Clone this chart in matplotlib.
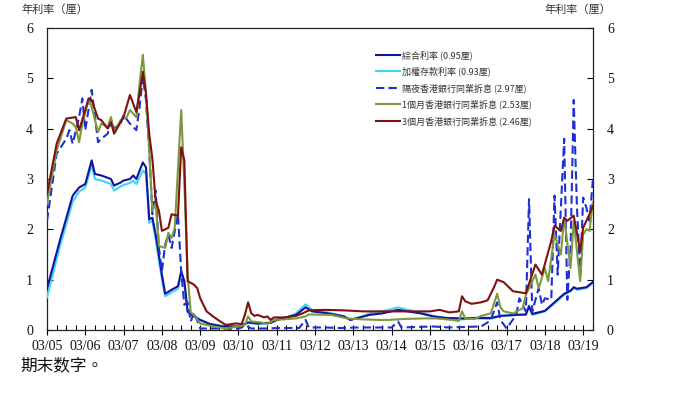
import matplotlib
matplotlib.use("Agg")
import matplotlib.pyplot as plt
import matplotlib.dates as mdates
import pandas as pd

plt.rcParams['font.family'] = ['Noto Sans CJK TC', 'DejaVu Sans']

# ---------------- data ----------------
composite_dates = ["2005-03", "2005-07", "2005-11", "2006-01", "2006-03", "2006-05", "2006-06", "2006-08",
                   "2006-11", "2006-12", "2007-02", "2007-03", "2007-05", "2007-06", "2007-07", "2007-09",
                   "2007-10", "2007-11", "2007-12", "2008-01", "2008-03", "2008-04", "2008-06", "2008-08",
                   "2008-09", "2008-10", "2008-11", "2009-01", "2009-03", "2009-06", "2009-10", "2010-03",
                   "2010-06", "2010-09", "2011-01", "2011-03", "2011-06", "2011-09", "2011-12", "2012-02",
                   "2012-07", "2012-12", "2013-02", "2013-05", "2013-08", "2013-12", "2014-05", "2014-08",
                   "2014-12", "2015-04", "2015-08", "2016-01", "2016-05", "2016-10", "2017-01", "2017-06",
                   "2017-09", "2017-10", "2017-11", "2018-03", "2018-06", "2018-09", "2018-11", "2018-12",
                   "2019-01", "2019-04", "2019-06"]
composite = [0.82, 1.77, 2.67, 2.83, 2.90, 3.37, 3.10, 3.07,
             3.00, 2.87, 2.93, 2.97, 3.00, 3.07, 3.00, 3.33,
             3.23, 2.20, 2.23, 1.90, 1.10, 0.72, 0.80, 0.87,
             1.17, 0.97, 0.37, 0.27, 0.20, 0.12, 0.07, 0.07,
             0.15, 0.13, 0.14, 0.20, 0.25, 0.30, 0.45, 0.37,
             0.33, 0.27, 0.20, 0.25, 0.30, 0.33, 0.40, 0.37,
             0.33, 0.27, 0.24, 0.23, 0.24, 0.24, 0.28, 0.30,
             0.31, 0.47, 0.32, 0.38, 0.55, 0.72, 0.78, 0.85,
             0.82, 0.85, 0.95]

deposit_dates = ["2005-03", "2005-07", "2005-11", "2006-01", "2006-03", "2006-05", "2006-06", "2006-08",
                 "2006-11", "2006-12", "2007-02", "2007-03", "2007-05", "2007-06", "2007-07", "2007-09",
                 "2007-10", "2007-11", "2007-12", "2008-01", "2008-03", "2008-04", "2008-06", "2008-08",
                 "2008-09", "2008-10", "2008-11", "2009-01", "2009-03", "2009-06", "2009-10", "2010-03",
                 "2010-06", "2010-09", "2011-01", "2011-03", "2011-06", "2011-09", "2011-12", "2012-02",
                 "2012-07", "2012-12", "2013-02", "2013-05", "2013-08", "2013-12", "2014-05", "2014-08",
                 "2014-12", "2015-04", "2015-08", "2016-01", "2016-05", "2016-10", "2017-01", "2017-06",
                 "2017-09", "2017-10", "2017-11", "2018-03", "2018-06", "2018-09", "2018-11", "2018-12",
                 "2019-01", "2019-04", "2019-06"]
deposit = [0.65, 1.65, 2.55, 2.75, 2.83, 3.27, 3.00, 2.97,
           2.90, 2.77, 2.85, 2.88, 2.92, 2.97, 2.90, 3.17,
           3.10, 2.13, 2.17, 1.80, 1.00, 0.67, 0.75, 0.82,
           1.10, 0.90, 0.35, 0.27, 0.20, 0.12, 0.08, 0.07,
           0.14, 0.12, 0.15, 0.20, 0.25, 0.33, 0.51, 0.40,
           0.35, 0.27, 0.20, 0.25, 0.33, 0.37, 0.45, 0.40,
           0.35, 0.28, 0.23, 0.21, 0.23, 0.22, 0.28, 0.30,
           0.30, 0.49, 0.30, 0.37, 0.53, 0.70, 0.77, 0.83,
           0.80, 0.83, 0.93]

overnight_dates = ["2005-03", "2005-06", "2005-09", "2005-10", "2005-11", "2006-01", "2006-02", "2006-03",
                   "2006-05", "2006-07", "2006-08", "2006-10", "2006-11", "2006-12", "2007-02", "2007-03",
                   "2007-05", "2007-07", "2007-08", "2007-09", "2007-10", "2007-11", "2007-12", "2008-01",
                   "2008-02", "2008-03", "2008-04", "2008-05", "2008-06", "2008-08", "2008-09", "2008-10",
                   "2008-11", "2008-12", "2009-01", "2009-03", "2009-06", "2009-10", "2010-02", "2010-04",
                   "2010-05", "2010-07", "2010-11", "2011-04", "2011-10", "2011-12", "2012-01", "2012-06",
                   "2012-11", "2013-04", "2013-10", "2014-03", "2014-05", "2014-06", "2014-11", "2015-04",
                   "2015-09", "2016-02", "2016-07", "2016-09", "2016-10", "2016-12", "2017-01", "2017-03",
                   "2017-06", "2017-07", "2017-09", "2017-10", "2017-11", "2018-01", "2018-02", "2018-03",
                   "2018-05", "2018-06", "2018-07", "2018-09", "2018-10", "2018-11", "2018-12", "2019-01",
                   "2019-02", "2019-03", "2019-04", "2019-05", "2019-06"]
overnight = [2.17, 3.50, 3.80, 3.97, 3.70, 4.23, 4.60, 3.97,
             4.77, 3.73, 3.80, 3.90, 4.17, 4.00, 4.10, 4.27,
             4.10, 3.97, 4.43, 5.03, 4.57, 3.57, 2.30, 2.77,
             1.63, 1.17, 1.70, 1.90, 1.63, 2.30, 1.15, 0.50,
             0.55, 0.17, 0.35, 0.03, 0.03, 0.03, 0.02, 0.05,
             0.10, 0.03, 0.03, 0.04, 0.04, 0.20, 0.05, 0.05,
             0.04, 0.05, 0.05, 0.05, 0.17, 0.05, 0.06, 0.07,
             0.05, 0.06, 0.07, 0.15, 0.20, 0.55, 0.20, 0.03,
             0.30, 0.63, 0.37, 2.60, 0.37, 0.83, 0.50, 0.63,
             0.60, 2.67, 1.10, 3.80, 0.60, 1.63, 4.57, 2.43,
             1.10, 2.63, 2.43, 2.17, 2.97]

m1_dates = ["2005-03", "2005-06", "2005-09", "2005-11", "2005-12", "2006-01", "2006-02", "2006-04",
            "2006-05", "2006-07", "2006-08", "2006-10", "2006-11", "2006-12", "2007-02", "2007-04",
            "2007-05", "2007-07", "2007-08", "2007-09", "2007-10", "2007-11", "2007-12", "2008-01",
            "2008-02", "2008-04", "2008-05", "2008-06", "2008-07", "2008-09", "2008-10", "2008-11",
            "2008-12", "2009-01", "2009-03", "2009-07", "2009-11", "2010-03", "2010-05", "2010-06",
            "2010-07", "2010-10", "2010-12", "2011-02", "2011-05", "2011-09", "2011-12", "2012-01",
            "2012-08", "2013-01", "2013-06", "2013-11", "2014-02", "2014-07", "2015-01", "2015-05",
            "2015-10", "2015-12", "2016-01", "2016-02", "2016-05", "2016-07", "2016-10", "2016-12",
            "2017-01", "2017-02", "2017-05", "2017-08", "2017-09", "2017-10", "2017-12", "2018-01",
            "2018-03", "2018-04", "2018-06", "2018-08", "2018-09", "2018-11", "2018-12", "2019-02",
            "2019-03", "2019-04", "2019-05", "2019-06"]
m1 = [2.50, 3.57, 4.17, 4.10, 4.03, 3.73, 4.10, 4.57,
      4.43, 3.93, 4.10, 4.03, 4.23, 3.93, 4.17, 4.23,
      4.37, 4.23, 4.90, 5.47, 4.70, 3.57, 2.37, 2.53,
      1.67, 1.63, 1.93, 1.83, 2.03, 4.37, 2.90, 1.10,
      0.35, 0.30, 0.13, 0.07, 0.03, 0.07, 0.10, 0.27,
      0.17, 0.15, 0.12, 0.20, 0.21, 0.23, 0.27, 0.31,
      0.30, 0.23, 0.21, 0.20, 0.20, 0.22, 0.23, 0.23,
      0.20, 0.18, 0.37, 0.23, 0.22, 0.28, 0.33, 0.72,
      0.45, 0.37, 0.33, 0.43, 0.70, 0.83, 1.10, 0.83,
      1.23, 0.97, 1.90, 1.50, 2.23, 1.23, 2.17, 0.97,
      1.90, 2.00, 1.97, 2.53]

m3_dates = ["2005-03", "2005-06", "2005-09", "2005-12", "2006-01", "2006-03", "2006-04", "2006-05",
            "2006-07", "2006-08", "2006-10", "2006-11", "2006-12", "2007-02", "2007-03", "2007-05",
            "2007-07", "2007-08", "2007-09", "2007-10", "2007-11", "2007-12", "2008-01", "2008-02",
            "2008-03", "2008-05", "2008-06", "2008-08", "2008-09", "2008-10", "2008-11", "2009-01",
            "2009-02", "2009-03", "2009-05", "2009-07", "2009-09", "2009-11", "2010-02", "2010-04",
            "2010-05", "2010-06", "2010-07", "2010-08", "2010-09", "2010-11", "2010-12", "2011-01",
            "2011-02", "2011-05", "2011-09", "2011-11", "2012-01", "2012-06", "2012-12", "2013-06",
            "2013-11", "2014-06", "2015-03", "2015-06", "2015-09", "2015-12", "2016-01", "2016-02",
            "2016-04", "2016-07", "2016-09", "2016-11", "2016-12", "2017-02", "2017-05", "2017-09",
            "2017-12", "2018-02", "2018-05", "2018-06", "2018-08", "2018-09", "2018-10", "2018-12",
            "2019-02", "2019-03", "2019-04", "2019-05", "2019-06"]
m3 = [2.70, 3.70, 4.20, 4.23, 3.97, 4.37, 4.60, 4.57,
      4.20, 4.17, 4.00, 4.13, 3.90, 4.13, 4.23, 4.67,
      4.33, 4.70, 5.13, 4.70, 3.90, 3.40, 2.57, 2.37,
      1.97, 2.03, 2.30, 2.27, 3.63, 3.37, 0.97, 0.90,
      0.83, 0.63, 0.37, 0.27, 0.18, 0.10, 0.13, 0.12,
      0.30, 0.55, 0.33, 0.28, 0.30, 0.25, 0.27, 0.20,
      0.25, 0.25, 0.28, 0.33, 0.39, 0.40, 0.39, 0.37,
      0.37, 0.37, 0.37, 0.40, 0.35, 0.37, 0.67, 0.57,
      0.52, 0.55, 0.59, 0.85, 1.00, 0.95, 0.77, 0.73,
      1.30, 1.10, 1.77, 2.07, 1.97, 2.23, 2.17, 2.27,
      1.57, 2.03, 2.17, 2.30, 2.46]

labels = ["綜合利率 (0.95厘)", "加權存款利率 (0.93厘)", "隔夜香港銀行同業拆息 (2.97厘)",
          "1個月香港銀行同業拆息 (2.53厘)", "3個月香港銀行同業拆息 (2.46厘)"]
y_ticks = [0, 1, 2, 3, 4, 5, 6]
y_title = "年利率（厘）"
footnote = "期末数字。"

# ---------------- figure ----------------
fig = plt.figure(figsize=(6.77, 3.94), dpi=100)
ax = fig.add_axes([47 / 677, 1 - 330 / 394, (593 - 47) / 677, (330 - 28) / 394])

def d(lst):
    return pd.to_datetime(lst)

ax.plot(d(composite_dates), composite, color="#12129e", lw=1.5, label=labels[0], zorder=4)
ax.plot(d(deposit_dates), deposit, color="#3fd4f2", lw=1.5, label=labels[1], zorder=3)
ax.plot(d(overnight_dates), overnight, color="#1f2fd6", lw=1.5, dashes=(4, 2), label=labels[2], zorder=5)
ax.plot(d(m1_dates), m1, color="#7b9a3c", lw=1.5, label=labels[3], zorder=6)
ax.plot(d(m3_dates), m3, color="#7f1111", lw=1.5, label=labels[4], zorder=7)

ax.set_xlim(pd.Timestamp("2005-03-01"), pd.Timestamp("2019-06-03"))
ax.set_ylim(0, 6)
ax.set_yticks(y_ticks)

ax.xaxis.set_major_locator(mdates.MonthLocator(bymonth=3))
ax.xaxis.set_minor_locator(mdates.MonthLocator(bymonth=[6, 9, 12]))
ax.xaxis.set_major_formatter(mdates.DateFormatter("%m/%y"))

serif = ["Liberation Serif", "DejaVu Serif"]
ax.tick_params(axis="x", which="major", direction="inout", length=7, width=0.8, pad=4)
ax.tick_params(axis="x", which="minor", direction="in", length=3.5, width=0.8)
ax.tick_params(axis="y", which="major", direction="in", length=4, width=0.8, pad=10,
               right=True, labelright=True)
for lab in ax.get_xticklabels() + ax.get_yticklabels():
    lab.set_fontfamily(serif)
    lab.set_fontsize(10)
    lab.set_color("#111111")
for sp in ax.spines.values():
    sp.set_linewidth(0.9)
    sp.set_color("#222222")

fig.text(55 / 677, 1 - 10 / 394, y_title, ha="center", va="center", fontsize=8, color="#333333")
fig.text(578 / 677, 1 - 10 / 394, y_title, ha="center", va="center", fontsize=8, color="#333333")
fig.text(20 / 677, 1 - 366 / 394, footnote, ha="left", va="center", fontsize=12, color="#111111")

leg = ax.legend(loc="upper left", bbox_to_anchor=(376 / 677, 1 - 50 / 394),
                bbox_transform=fig.transFigure, frameon=False, fontsize=6.5,
                handlelength=2.7, handletextpad=0.15, labelspacing=0.75, borderpad=0,
                borderaxespad=0)
for t in leg.get_texts():
    t.set_color("#333333")

fig.savefig("out.png", dpi=100)
